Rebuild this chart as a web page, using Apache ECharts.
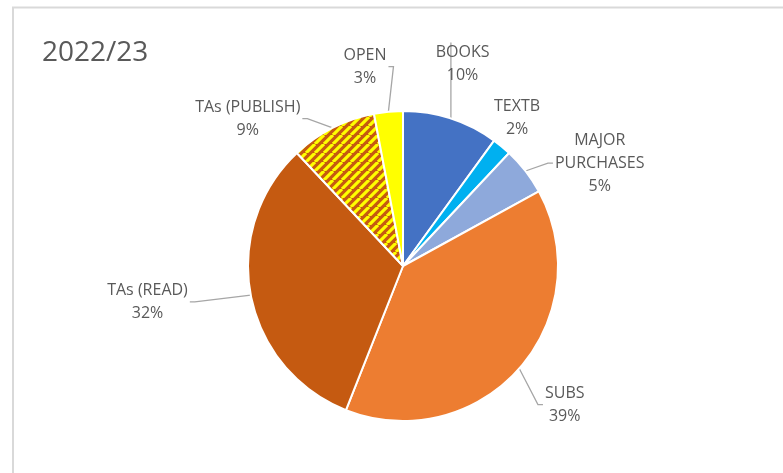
<!DOCTYPE html>
<html>
<head>
<meta charset="utf-8">
<script src="https://cdn.jsdelivr.net/npm/echarts@6/dist/echarts.min.js"></script>
<style>
  html, body { margin: 0; padding: 0; background: #fff; }
  #chart { width: 783px; height: 473px; }
</style>
</head>
<body>
<div id="chart"></div>
<script>
(function () {
    var categories = ['BOOKS', 'TEXTB', 'MAJOR\nPURCHASES', 'SUBS', 'TAs (READ)', 'TAs (PUBLISH)', 'OPEN'];
    var shares = [10, 2, 5, 39, 32, 9, 3];
    var colors = ['#4472C4', '#00B0F0', '#8EA9DB', '#ED7D31', '#C55A11', 'hatch', '#FFFF00'];

    // where each label sits: turn from slice middle (deg) and distance from pie centre
    var labelTurn = [-1.6, -2.0, 10.2, -0.8, 2.8, -19.5, -5.4];
    var labelDist = [211, 187, 222, 213, 258, 214, 203];
    var noLine = { 'TEXTB': true };

    var cx = 403, cy = 266, R = 155;

    var makeHatch = function () {
        var s = 9;
        var c = document.createElement('canvas');
        c.width = s;
        c.height = s;
        var ctx = c.getContext('2d');
        ctx.fillStyle = '#C55A11';
        ctx.fillRect(0, 0, s, s);
        ctx.strokeStyle = '#FFFF00';
        ctx.lineWidth = 3.2;
        ctx.beginPath();
        for (var k = -s; k <= 2 * s; k += s) {
            ctx.moveTo(k, s);
            ctx.lineTo(k + s, 0);
        }
        ctx.stroke();
        return { image: c, repeat: 'repeat' };
    };

    var total = shares.reduce(function (a, b) { return a + b; }, 0);
    var midAngle = [];
    var acc = 0;
    shares.forEach(function (v) {
        midAngle.push((acc + v / 2) / total * 360);
        acc += v;
    });

    var data = categories.map(function (name, i) {
        return {
            name: name,
            value: shares[i],
            itemStyle: { color: colors[i] === 'hatch' ? makeHatch() : colors[i] },
            labelLine: { show: !noLine[name] }
        };
    });

    var chart = echarts.init(document.getElementById('chart'));
    chart.setOption({
        animation: false,
        graphic: [{
            type: 'rect',
            shape: { x: 13, y: 7.5, width: 800, height: 500 },
            style: { fill: 'none', stroke: '#d9d9d9', lineWidth: 2 }
        }],
        title: {
            text: '2022/23',
            left: 37,
            top: 34,
            textStyle: {
                fontFamily: 'Open Sans',
                fontWeight: 'normal',
                fontSize: 28,
                color: '#595959'
            }
        },
        series: [{
            type: 'pie',
            center: [cx, cy],
            radius: [0, R],
            startAngle: 90,
            clockwise: true,
            avoidLabelOverlap: false,
            itemStyle: { borderColor: '#fff', borderWidth: 2 },
            label: {
                show: true,
                position: 'outside',
                formatter: function (p) {
                    return p.name.split('\n').map(function (t) {
                        return '{c|' + t + '}';
                    }).join('\n') + '\n{c|' + p.value + '%}';
                },
                fontFamily: 'Open Sans',
                fontSize: 16,
                lineHeight: 23,
                color: '#595959',
                rich: {
                    c: { align: 'center', fontFamily: 'Open Sans', fontSize: 16, lineHeight: 23, color: '#595959' }
                }
            },
            labelLine: {
                show: true,
                lineStyle: { color: '#a6a6a6', width: 1.3 }
            },
            labelLayout: function (params) {
                var i = params.dataIndex;
                var rect = params.labelRect;
                var a = (midAngle[i] + labelTurn[i]) * Math.PI / 180;
                var lx = cx + labelDist[i] * Math.sin(a);
                var ly = cy - labelDist[i] * Math.cos(a);
                var m = midAngle[i] * Math.PI / 180;
                var ex = cx + R * Math.sin(m);
                var ey = cy - R * Math.cos(m);
                var x0 = lx - rect.width / 2, x1 = lx + rect.width / 2;
                var y0 = ly - rect.height / 2, y1 = ly + rect.height / 2;
                var tx = Math.min(Math.max(ex, x0), x1);
                var pts = [[ex, ey]];
                if (tx === x0 || tx === x1) {
                    var ty = rect.height > 40 ? ly : ly - 7;
                    var side = tx === x0 ? -7 : 7;
                    pts.push([tx + side, ty]);
                    pts.push([tx + (side > 0 ? 2 : -2), ty]);
                } else {
                    pts.push([tx, ey < ly ? y1 - 2 : y0 + 2]);
                }
                return {
                    x: lx,
                    y: ly,
                    align: 'center',
                    verticalAlign: 'middle',
                    labelLinePoints: pts
                };
            },
            data: data
        }]
    });
})();
</script>
</body>
</html>
